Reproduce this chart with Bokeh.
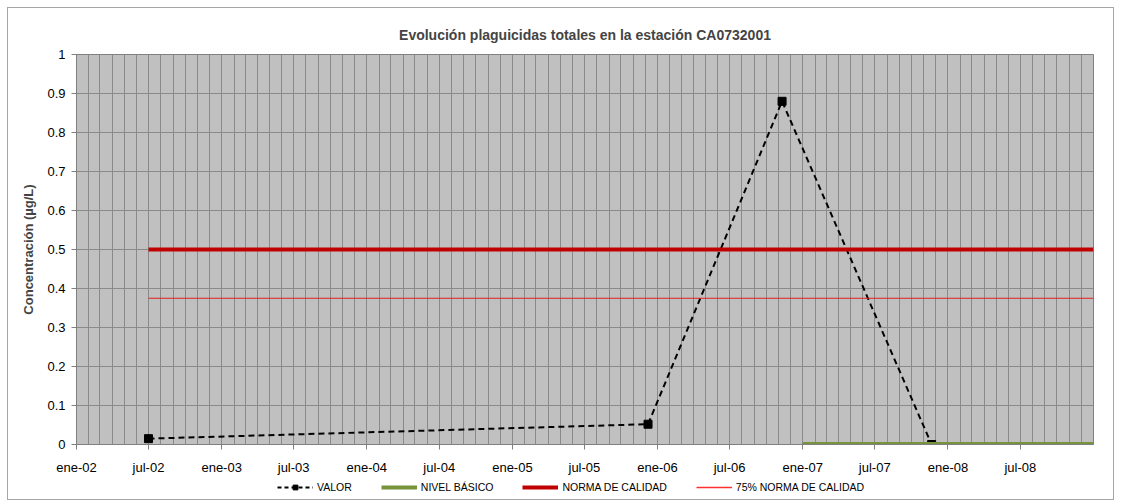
import pandas as pd
from bokeh.plotting import figure
from bokeh.layouts import column
from bokeh.models import (Range1d, FixedTicker, CustomJSTickFormatter, Legend, LegendItem,
                          ColumnDataSource)
from bokeh.embed import file_html
from bokeh.resources import INLINE

# ---------------- data ----------------
title_text = "Evolución plaguicidas totales en la estación CA0732001"
y_label = "Concentración (µg/L)"
legend_labels = ["VALOR", "NIVEL BÁSICO", "NORMA DE CALIDAD", "75% NORMA DE CALIDAD"]

valor_dates = ["2002-07-01", "2005-12-08", "2006-11-10", "2007-11-21"]
valor_values = [0.015, 0.052, 0.88, 0.0]

nivel_dates = ["2007-01-01", "2009-01-01"]
nivel_values = [0.0, 0.0]

norma_dates = ["2002-07-01", "2009-01-01"]
norma_values = [0.5, 0.5]

p75_dates = ["2002-07-01", "2009-01-01"]
p75_values = [0.375, 0.375]

x_start, x_end = "2002-01-01", "2009-01-01"
y_ticks = [0, 0.1, 0.2, 0.3, 0.4, 0.5, 0.6, 0.7, 0.8, 0.9, 1.0]

FONT = "Liberation Sans"
GREEN = "#77933C"
DARKRED = "#C00000"
RED = "#E02020"


def ms(d):
    return pd.Timestamp(d).timestamp() * 1000.0


major_ticks = [ms(d) for d in pd.date_range(x_start, "2008-07-01", freq="6MS")]
minor_ticks = [ms(d) for d in pd.date_range(x_start, x_end, freq="MS")]

p = figure(frame_width=1017, frame_height=390, x_axis_type="datetime",
           output_backend="svg", toolbar_location=None,
           x_range=Range1d(ms(x_start), ms(x_end)), y_range=Range1d(0, 1),
           min_border_left=68, min_border_right=20, min_border_top=46,
           min_border_bottom=31, background_fill_color="#C0C0C0",
           border_fill_color="white")

p.title.text = title_text
p.title.align = "center"
p.title.text_font = FONT
p.title.text_font_size = "14px"
p.title.text_font_style = "bold"
p.title.offset = 0
p.title.standoff = 24

p.outline_line_color = "#808080"

# grids
p.xgrid.ticker = FixedTicker(ticks=minor_ticks)
p.xgrid.grid_line_color = "#8a8a8a"
p.xgrid.grid_line_width = 1
p.ygrid.ticker = FixedTicker(ticks=y_ticks)
p.ygrid.grid_line_color = "#8a8a8a"
p.ygrid.grid_line_width = 1

# axes
xa = p.xaxis[0]
xa.ticker = FixedTicker(ticks=major_ticks)
xa.formatter = CustomJSTickFormatter(code="""
const names = ['ene','feb','mar','abr','may','jun','jul','ago','sep','oct','nov','dic'];
const d = new Date(tick);
return names[d.getUTCMonth()] + '-' + String(d.getUTCFullYear()).slice(2);
""")
ya = p.yaxis[0]
ya.ticker = FixedTicker(ticks=y_ticks)
ya.formatter = CustomJSTickFormatter(code="return (Math.round(tick*10)/10).toString();")
for ax in (xa, ya):
    ax.axis_line_color = "#808080"
    ax.major_tick_line_color = "#808080"
    ax.minor_tick_line_color = None
    ax.major_tick_out = 5
    ax.major_tick_in = 0
    ax.major_label_text_font = FONT
    ax.major_label_text_font_size = "13px"
    ax.major_label_text_color = "black"
xa.major_label_standoff = 10
ya.major_label_standoff = 6
ya.axis_label = y_label
ya.axis_label_text_font = FONT
ya.axis_label_text_font_size = "13px"
ya.axis_label_text_font_style = "bold"
ya.axis_label_standoff = 8

# series
src_v = ColumnDataSource(dict(x=pd.to_datetime(valor_dates), y=valor_values))
src_n = ColumnDataSource(dict(x=pd.to_datetime(nivel_dates), y=nivel_values))
src_q = ColumnDataSource(dict(x=pd.to_datetime(norma_dates), y=norma_values))
src_7 = ColumnDataSource(dict(x=pd.to_datetime(p75_dates), y=p75_values))

p.line("x", "y", source=src_v, line_color="black", line_width=2, line_dash="6 4")
p.scatter("x", "y", source=src_v, marker="square", size=8,
          fill_color="black", line_color="black")
p.line("x", "y", source=src_n, line_color=GREEN, line_width=5)
p.line("x", "y", source=src_q, line_color=DARKRED, line_width=4)
p.line("x", "y", source=src_7, line_color=RED, line_width=1)

# ---- legend strip below the chart (separate, axis-less figure) ----
# It reuses the same sources; its numeric 0..1 ranges keep those marks out of view,
# so only the legend swatches are shown.
lg = figure(width=1105, height=22, x_axis_type=None, y_axis_type=None,
            output_backend="svg", toolbar_location=None,
            x_range=Range1d(0, 1), y_range=Range1d(0, 1),
            min_border_left=0, min_border_right=0, min_border_top=0, min_border_bottom=0,
            border_fill_color="white", background_fill_color="white")
lg.outline_line_color = None
lg.grid.visible = False
l_v = lg.line("x", "y", source=src_v, line_color="black", line_width=2, line_dash="4 3")
m_v = lg.scatter("x", "y", source=src_v, marker="square", size=7,
                 fill_color="black", line_color="black")
l_n = lg.line("x", "y", source=src_n, line_color=GREEN, line_width=4)
l_q = lg.line("x", "y", source=src_q, line_color=DARKRED, line_width=4)
l_7 = lg.line("x", "y", source=src_7, line_color="#FF3030", line_width=1.5)

legend = Legend(items=[
    LegendItem(label=legend_labels[0], renderers=[l_v, m_v]),
    LegendItem(label=legend_labels[1], renderers=[l_n]),
    LegendItem(label=legend_labels[2], renderers=[l_q]),
    LegendItem(label=legend_labels[3], renderers=[l_7]),
], orientation="horizontal", location=(201, 6))
legend.label_text_font = FONT
legend.label_text_font_size = "10.5px"
legend.label_text_color = "black"
legend.label_height = 12
legend.glyph_width = 36
legend.glyph_height = 12
legend.label_standoff = 4
legend.spacing = 29
legend.padding = 0
legend.margin = 0
legend.border_line_color = None
legend.background_fill_alpha = 0
lg.add_layout(legend, "center")

layout = column(p, lg, spacing=0)
layout.margin = (8, 8, 8, 8)
layout.styles = {"outline": "1px solid #a6a6a6"}

open("out.html", "w").write(file_html(layout, INLINE))
